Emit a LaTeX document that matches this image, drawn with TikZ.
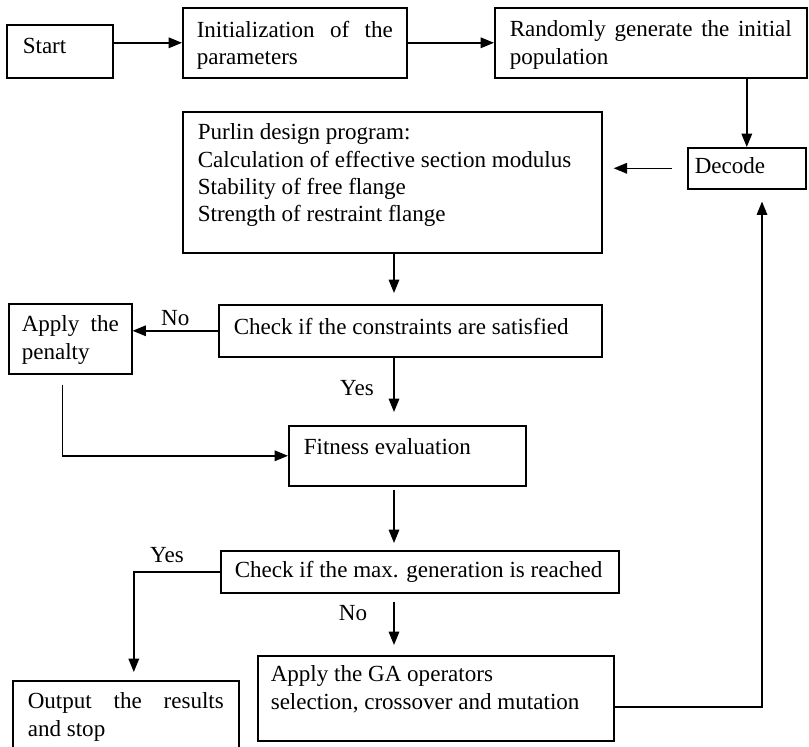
\documentclass[tikz,border=0pt]{standalone}
\usepackage{fontspec}
\setmainfont{Liberation Serif}
\usetikzlibrary{arrows.meta}
\tikzset{
	>={Triangle[length=9.5pt,width=7.5pt]},
	every node/.style={font=\fontsize{16.4}{19.4}\selectfont},
	blok/.style={draw, line width=1.1pt, anchor = north west},
	link/.style={->, line width=1.1pt}
}
\begin{document}
\begin{tikzpicture}[x=0.025cm, y=-0.025cm]
				\useasboundingbox (0,0) rectangle (809,746);
				\clip (0,0) rectangle (809,746);
				\coordinate (spine) at (394,0);
				\coordinate (back) at (762,707);
				\node[blok, inner xsep=0.4cm, inner ysep=0.325cm] (start) at (6,24) {\parbox[t][0.675cm][t]{1.85cm}{Start}};
				\node[blok, inner xsep=0.35cm, inner ysep=0.325cm] (init) at (182,7) {\parbox[t][1.1cm][t]{4.9cm}{Initialization of the parameters}};
				\node[blok, inner xsep=0.375cm, inner ysep=0.325cm] (rand) at (494,7) {\parbox[t][1.1cm][t]{7.05cm}{Randomly generate the initial population}};
				\node[blok, inner xsep=0.175cm, inner ysep=0.25cm] (decode) at (687,147) {\parbox[t][0.525cm][t]{2.6cm}{Decode}};
				\node[blok, inner xsep=0.375cm, inner ysep=0.3cm] (purlin) at (182,111) {\parbox[t][2.925cm][t]{9.725cm}{Purlin design program:\\ Calculation of effective section modulus\\ Stability of free flange\\ Strength of restraint flange}};
				\node[blok, inner xsep=0.375cm, inner ysep=0.325cm] (check1) at (218,304) {\parbox[t][0.65cm][t]{8.825cm}{Check if the constraints are satisfied}};
				\node[blok, inner xsep=0.325cm, inner ysep=0.3cm] (penalty) at (8,303) {\parbox[t][1.15cm][t]{2.425cm}{Apply the penalty}};
				\node[blok, inner xsep=0.375cm, inner ysep=0.325cm] (fitness) at (288,425) {\parbox[t][0.85cm][t]{5.175cm}{Fitness evaluation}};
				\node[blok, inner xsep=0.35cm, inner ysep=0.25cm] (check2) at (220,550) {\parbox[t][0.55cm][t]{9.25cm}{Check if the max. generation is reached}};
				\node[blok, inner xsep=0.375cm, inner ysep=0.3cm] (output) at (12,680) {\parbox[t][1.4cm][t]{4.9cm}{Output the results and stop}};
				\node[blok, inner xsep=0.325cm, inner ysep=0.25cm] (ga) at (257,655) {\parbox[t][1.625cm][t]{8.25cm}{Apply the GA operators\\ selection, crossover and mutation}};
				\draw[link] (start.east |- init.west) -- (init.west);
				\draw[link] (init.east) -- (rand.west);
				\draw[link] (rand.south -| decode.north) -- (decode.north);
				\draw[link, shorten <=0.375cm, shorten >=0.275cm] (decode.west) -- (decode.west -| purlin.east);
				\draw[link, shorten >=0.275cm] (purlin.south -| spine) -- (check1.north -| spine);
				\draw[link] (check1.west) -- (check1.west -| penalty.east) node[midway, above] (no1) {No};
				\draw[link, shorten >=0.325cm] (check1.south -| spine) -- (fitness.north -| spine);
				\draw[link, shorten <=0.25cm] ([xshift=-0.2cm]penalty.south) |- (fitness.west);
				\draw[link, shorten <=0.075cm, shorten >=0.175cm] (fitness.south -| spine) -- (check2.north -| spine);
				\draw[link, shorten >=0.2cm] (check2.west) -| ([xshift=0.2cm]output.north);
				\draw[link, shorten <=0.2cm, shorten >=0.25cm] (check2.south -| spine) -- (ga.north -| spine);
				\draw[link, shorten >=0.3cm] (ga.east |- back) -| (decode.south -| back);
				\node (yes1) at (357,388) {Yes};
				\node (yes2) at (167,555) {Yes};
				\node (no2) at (353,613) {No};
			\end{tikzpicture}
\end{document}
